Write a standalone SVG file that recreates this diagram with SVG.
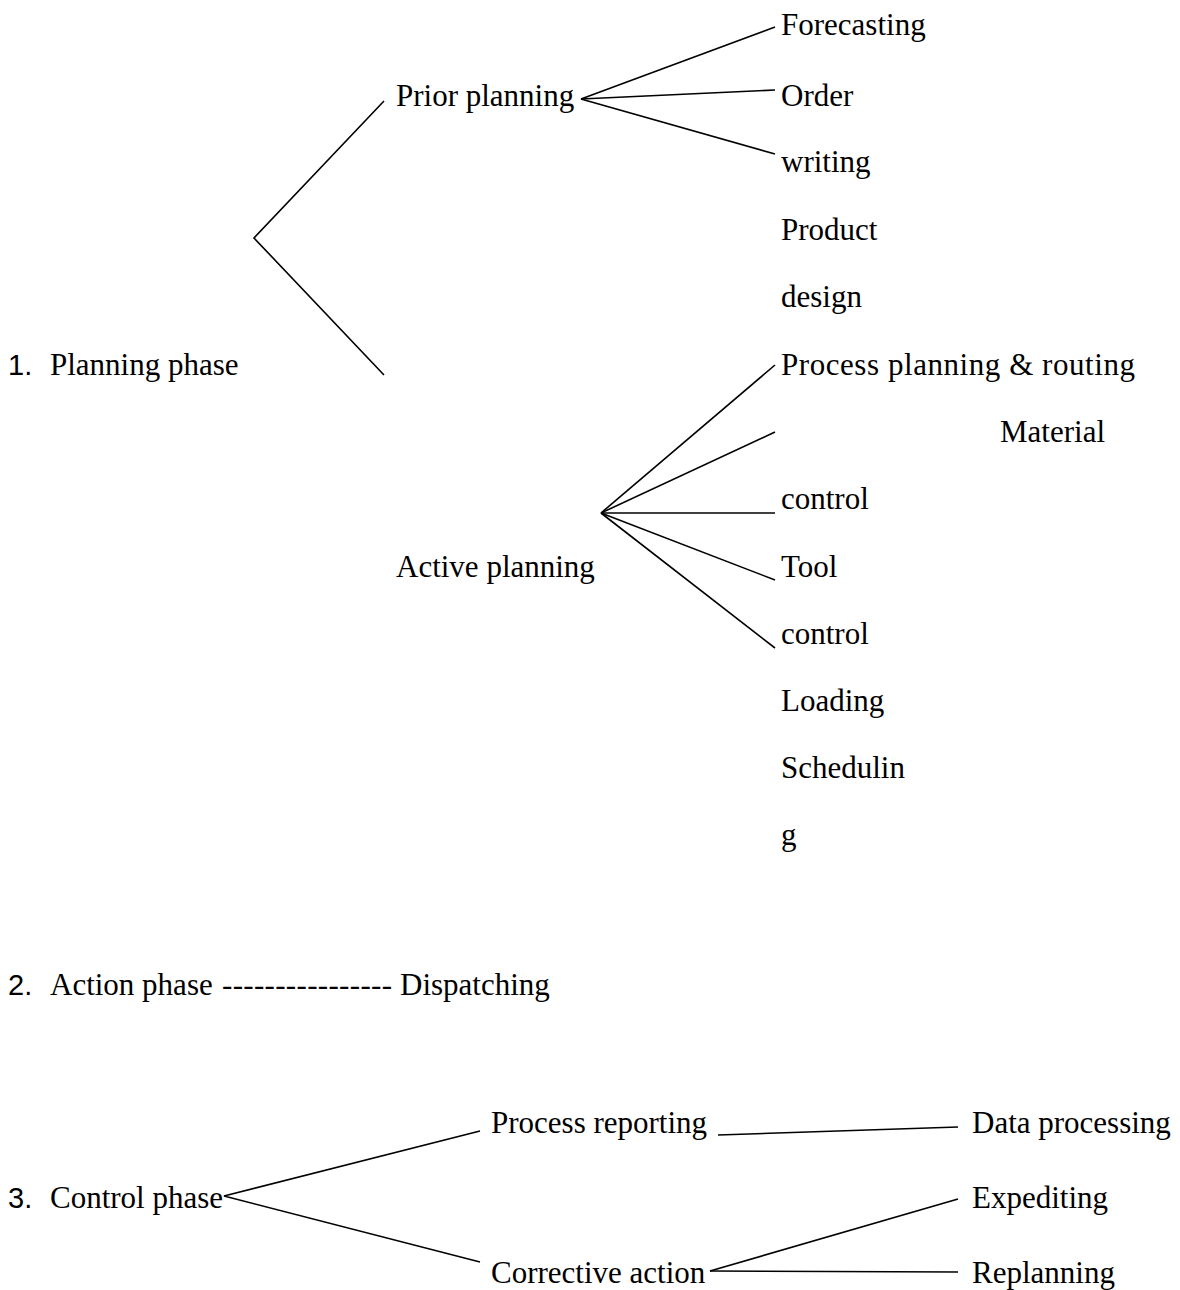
<svg xmlns="http://www.w3.org/2000/svg" width="1180" height="1290" viewBox="0 0 1180 1290">
<style>
text{font-family:"Liberation Serif","Times New Roman",serif;font-size:31px;fill:#000}
.num{font-family:"Liberation Sans",Arial,sans-serif;font-size:29px}
.c line{stroke:#000;stroke-width:1.6;fill:none}
.c polyline{stroke:#000;stroke-width:1.6;fill:none}
</style>
<rect width="1180" height="1290" fill="#fff"/>
<g class="c" id="connectors">
<polyline points="384,101 254,238 384,375"/>
<line x1="581" y1="99" x2="775" y2="27"/>
<line x1="581" y1="99" x2="775" y2="90"/>
<line x1="581" y1="99" x2="775" y2="154"/>
<line x1="601" y1="513" x2="775" y2="365"/>
<line x1="601" y1="513" x2="775" y2="432"/>
<line x1="601" y1="513" x2="775" y2="513"/>
<line x1="601" y1="513" x2="775" y2="580"/>
<line x1="601" y1="513" x2="775" y2="648"/>
<polyline points="480,1131 224,1196 480,1262"/>
<line x1="718" y1="1135" x2="958" y2="1127"/>
<line x1="958" y1="1199" x2="710" y2="1271"/>
<line x1="710" y1="1271" x2="958" y2="1272"/>
</g>
<g id="planning-phase"><text class="num" x="8" y="375">1.</text><text x="50" y="375">Planning phase</text></g>
<g id="prior-planning"><text x="396" y="106">Prior planning</text></g>
<g id="forecasting"><text x="781" y="35">Forecasting</text></g>
<g id="order-writing"><text x="781" y="106">Order</text><text x="781" y="172">writing</text></g>
<g id="product-design"><text x="781" y="240">Product</text><text x="781" y="307">design</text></g>
<g id="process-planning"><text x="781" y="375" textLength="354" lengthAdjust="spacing">Process planning &amp; routing</text></g>
<g id="material-control"><text x="1000" y="442">Material</text><text x="781" y="509">control</text></g>
<g id="active-planning"><text x="396" y="577">Active planning</text></g>
<g id="tool-control"><text x="781" y="577">Tool</text><text x="781" y="644">control</text></g>
<g id="loading"><text x="781" y="711">Loading</text></g>
<g id="scheduling"><text x="781" y="778">Schedulin</text><text x="781" y="845">g</text></g>
<g id="action-phase"><text class="num" x="8" y="995">2.</text><text x="50" y="995">Action phase</text><text x="222" y="995" textLength="170" lengthAdjust="spacing">----------------</text></g>
<g id="dispatching"><text x="400" y="995">Dispatching</text></g>
<g id="control-phase"><text class="num" x="8" y="1208">3.</text><text x="50" y="1208">Control phase</text></g>
<g id="process-reporting"><text x="491" y="1133">Process reporting</text></g>
<g id="data-processing"><text x="972" y="1133">Data processing</text></g>
<g id="corrective-action"><text x="491" y="1283">Corrective action</text></g>
<g id="expediting"><text x="972" y="1208">Expediting</text></g>
<g id="replanning"><text x="972" y="1283">Replanning</text></g>
</svg>
